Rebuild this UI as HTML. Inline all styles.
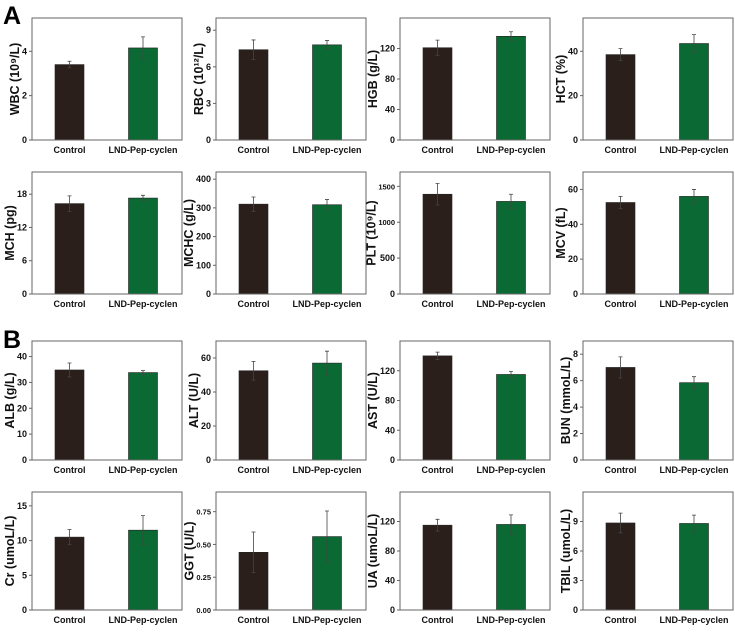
<!DOCTYPE html>
<html><head><meta charset="utf-8"><style>
body{margin:0;background:#fff;width:735px;height:627px;overflow:hidden;font-family:"Liberation Sans",Arial,sans-serif}
svg text{font-family:"Liberation Sans",Arial,sans-serif;font-weight:bold}
</style></head><body>
<svg id="fig" width="735" height="627">
<text x="3" y="24" font-size="25">A</text>
<text x="3" y="348" font-size="25">B</text>
</svg>
<script>
const groups = ["Control", "LND-Pep-cyclen"];
const titles = ["WBC (10⁹/L)","RBC (10¹²/L)","HGB (g/L)","HCT (%)","MCH (pg)","MCHC (g/L)","PLT (10⁹/L)","MCV (fL)","ALB (g/L)","ALT (U/L)","AST (U/L)","BUN (mmoL/L)","Cr (umoL/L)","GGT (U/L)","UA (umoL/L)","TBIL (umoL/L)"];
const means = [[3.4,4.15],[7.4,7.8],[121,136],[38.5,43.5],[16.3,17.3],[313,311],[1390,1290],[52.5,56],[34.8,33.8],[52.5,57],[140,115],[7,5.85],[10.5,11.5],[0.44,0.56],[115,116],[8.85,8.8]];
const errs = [[0.15,0.5],[0.8,0.35],[10,6],[2.7,4],[1.4,0.5],[25,18],[150,100],[3.5,4],[2.7,0.8],[5.5,7],[5,4],[0.8,0.45],[1.1,2.1],[0.155,0.195],[8,13],[1,0.85]];
const ymaxs = [5.5,10,160,55,22,425,1700,70,46,70,160,9,17,0.9,160,12];
const ticks = [[0,2,4],[0,3,6,9],[0,40,80,120],[0,20,40],[0,6,12,18],[0,100,200,300,400],[0,500,1000,1500],[0,20,40,60],[0,10,20,30,40],[0,20,40,60],[0,40,80,120],[0,2,4,6,8],[0,5,10,15],[0,0.25,0.5,0.75],[0,40,80,120],[0,3,6,9]];
const tickLabels = [["0","2","4"],["0","3","6","9"],["0","40","80","120"],["0","20","40"],["0","6","12","18"],["0","100","200","300","400"],["0","500","1000","1500"],["0","20","40","60"],["0","10","20","30","40"],["0","20","40","60"],["0","40","80","120"],["0","2","4","6","8"],["0","5","10","15"],["0.00","0.25","0.50","0.75"],["0","40","80","120"],["0","3","6","9"]];
const colLeft=[32,216,400,583], rowTop=[18,172,341,492], rowBot=[140,294,460,610], W=150;
const colors=["#2b1f1c","#0b6933"];
const NS="http://www.w3.org/2000/svg", svg=document.getElementById('fig');
function mk(tag,attrs,parent,txt){const e=document.createElementNS(NS,tag);for(const k in attrs)e.setAttribute(k,attrs[k]);if(txt!==undefined)e.textContent=txt;parent.appendChild(e);return e;}
for(let i=0;i<16;i++){
  const L=colLeft[i%4], T=rowTop[Math.floor(i/4)], B=rowBot[Math.floor(i/4)];
  const g=mk('g',{},svg);
  
  
  const y=v=>B-(v/ymaxs[i])*(B-T);
  const x=k=>L+W*(k===0?0.25:0.74);
  groups.forEach((gname,k)=>{
    const r=mk('rect',{x:x(k)-14.5,y:y(means[i][k]),width:29,height:B-y(means[i][k]),fill:colors[k],stroke:'#222','stroke-width':0.6},g);
    
    
    const hi=y(means[i][k]+errs[i][k]), lo=y(means[i][k]-errs[i][k]);
    const e=mk('path',{d:`M${x(k)} ${hi}V${lo}M${x(k)-2} ${hi}H${x(k)+2}M${x(k)-2} ${lo}H${x(k)+2}`,stroke:'#444','stroke-width':0.8,fill:'none'},g);
    
    
    const t=mk('text',{x:x(k),y:B+13,'font-size':9,'text-anchor':'middle',fill:'#111'},g,gname);
    
    
  });
  const box=mk('rect',{x:L,y:T,width:W,height:B-T,fill:'none',stroke:'#666','stroke-width':1},g);
  
  
  let maxW=0;
  ticks[i].forEach((tv,j)=>{
    mk('line',{x1:L-3,x2:L,y1:y(tv),y2:y(tv),stroke:'#666','stroke-width':1},g);
    const t=mk('text',{x:L-5,y:y(tv)+3,'font-size':tickLabels[i][j].length>3?7.5:9,'text-anchor':'end',fill:'#111'},g,tickLabels[i][j]);
    
    
    maxW=Math.max(maxW,t.getComputedTextLength());
  });
  const cy=(T+B)/2, tx=Math.max(14,L-5-maxW-3);
  const yt=mk('text',{x:tx,y:cy,'font-size':12.5,'text-anchor':'middle',transform:`rotate(-90 ${tx} ${cy})`,fill:'#111'},g,titles[i]);
  
  
}
</script>
</body></html>
